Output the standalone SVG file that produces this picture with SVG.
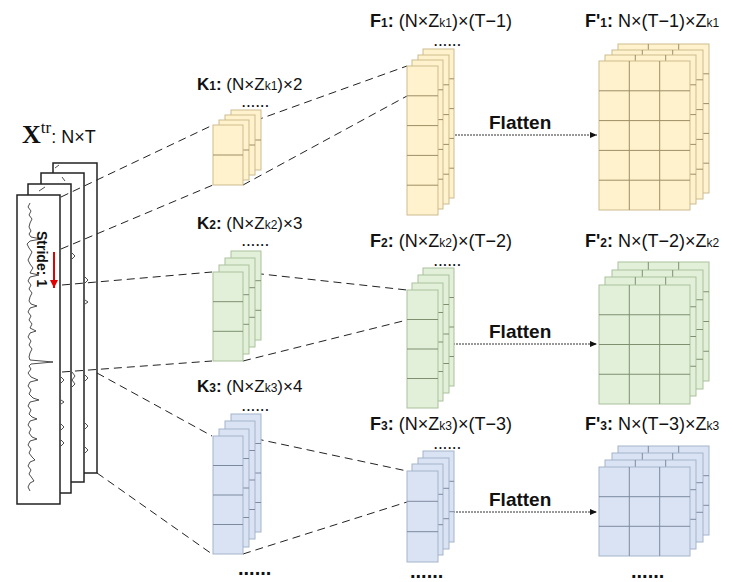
<svg xmlns="http://www.w3.org/2000/svg" width="733" height="582" viewBox="0 0 733 582">
<style>
text{font-family:"Liberation Sans",Arial,sans-serif;fill:#111}
.lbl{font-size:18px}
.lblk{font-size:17px}
.b{font-weight:bold}
.s{font-size:12px}
.dots{font-size:12px;font-weight:bold;letter-spacing:1.3px}
.bdots{font-size:20px;font-weight:bold}
.fl{font-size:19px;font-weight:bold}
.yel rect{fill:#FFF2CC;stroke:#CDBB8E;stroke-width:1}
.yel path{stroke:#9E8E66;stroke-width:1;fill:none}
.grn rect{fill:#E2F0D9;stroke:#A9C29B;stroke-width:1}
.grn path{stroke:#7E9070;stroke-width:1;fill:none}
.blu rect{fill:#DAE3F3;stroke:#A4B4CC;stroke-width:1}
.blu path{stroke:#7C8AA0;stroke-width:1;fill:none}
.xp{fill:#fff;stroke:#222;stroke-width:1.5}
.wave{fill:none;stroke:#222;stroke-width:0.8;stroke-linejoin:round}
.dash{fill:none;stroke:#222;stroke-width:1;stroke-dasharray:8,5}
.dot{fill:none;stroke:#333;stroke-width:1;stroke-dasharray:2,1}
</style>
<defs>
<marker id="ah" markerWidth="8" markerHeight="8" refX="7" refY="4" orient="auto" markerUnits="userSpaceOnUse">
<path d="M0,1 L7,4 L0,7 Z" fill="#111"/>
</marker>
<marker id="ahr" markerWidth="10" markerHeight="10" refX="8" refY="5" orient="auto" markerUnits="userSpaceOnUse">
<path d="M0,1 L8,5 L0,9 Z" fill="#E00000"/>
</marker>
</defs>

<g id="Xtr">
<rect class="xp" x="53" y="163" width="44" height="310"/>
<rect class="xp" x="41" y="173" width="43" height="309"/>
<rect class="xp" x="28" y="184" width="43" height="309"/>
<rect class="xp" x="17" y="195" width="43" height="309"/>
<path class="wave" d="M55,168 l4,-3 M62,177 l3,4 M39,191 l6,-4 M85,277 l3,3 l-3,3 M85,300 l3,2 l-3,2 M72,253 l3,3 l-3,3 M72,372 l3,4 l-3,4 l3,4 l-3,3 M61,377 l3,3 l-3,3 M61,400 l3,2 l-3,2 M61,424 l3,3 l-3,3 M61,440 l3,3 l-3,3 M85,375 l3,3 l-3,3 M85,423 l3,3 l-3,3 M85,447 l3,3 l-3,3"/>
<path class="wave" d="M30,203 L28,207 L31,211 L29,215 L32,219 L30,223 L29,227 L31,231 L29,234 L31,237 L41,239 L30,241 L27,244 L29,248 L32,252 L30,256 L28,260 L30,264 L33,268 L31,271 L30,273 L39,275 L30,277 L28,281 L31,285 L29,289 L32,293 L30,297 L29,301 L31,304 L37,306 L30,308 L28,312 L31,316 L29,320 L32,324 L30,328 L36,331 L30,333 L28,337 L31,341 L29,345 L32,349 L30,353 L29,357 L30,360 L53,362 L31,364 L29,366 L31,369 L28,373 L31,377 L38,380 L30,382 L28,386 L31,390 L29,394 L33,398 L39,400 L30,402 L28,406 L31,410 L29,414 L32,417 L37,419 L30,421 L28,425 L31,429 L29,433 L32,437 L37,439 L30,441 L28,445 L31,449 L29,453 L32,457 L35,460 L30,462 L28,466 L31,470 L29,474 L32,478 L34,481 L30,483 L28,487 L30,491"/>
<text class="b" font-size="14" transform="translate(37,231) rotate(90)">Stride: 1</text>
<line x1="54" y1="252" x2="54" y2="288" stroke="#E00000" stroke-width="2" marker-end="url(#ahr)"/>
<text x="22" y="143"><tspan font-family="Liberation Serif" font-weight="bold" font-size="26">X</tspan><tspan font-family="Liberation Serif" font-size="17" dy="-10">tr</tspan><tspan font-size="18" dy="10">: N×T</tspan></text>
</g>

<g id="connectors">
<path class="dash" d="M61,197 L213,125 M61,249 L213,185 M62,285 L212,272 M62,372 L212,361 M97,373 L212,436 M97,473 L212,554"/>
<path class="dash" d="M243,125 L407,66 M243,185 L407,96 M243,272 L407,290 M243,361 L407,320 M243,436 L407,471 M243,554 L407,502"/>
<path class="dot" d="M455,135 H597" marker-end="url(#ah)"/>
<path class="dot" d="M453,344 H597" marker-end="url(#ah)"/>
<path class="dot" d="M453,512 H597" marker-end="url(#ah)"/>
<text class="fl" x="489" y="129">Flatten</text>
<text class="fl" x="489" y="338">Flatten</text>
<text class="fl" x="489" y="506">Flatten</text>
</g>

<g id="K1" class="yel">
<text class="lblk" x="197" y="90"><tspan class="b">K<tspan class="s">1</tspan>:</tspan> (N×Z<tspan class="s">k1</tspan>)×2</text>
<text class="dots" x="242" y="107">......</text>
<rect x="231" y="110" width="30" height="60"/><path d="M231,140h30"/>
<rect x="225" y="115" width="30" height="60"/><path d="M225,145h30"/>
<rect x="219" y="120" width="30" height="60"/><path d="M219,150h30"/>
<rect x="213" y="125" width="30" height="60"/><path d="M213,155h30"/>
</g>

<g id="K2" class="grn">
<text class="lblk" x="197" y="229"><tspan class="b">K<tspan class="s">2</tspan>:</tspan> (N×Z<tspan class="s">k2</tspan>)×3</text>
<text class="dots" x="242" y="246">......</text>
<rect x="231" y="251" width="30" height="89"/><path d="M231,280.7h30M231,310.3h30"/>
<rect x="225" y="258" width="30" height="89"/><path d="M225,287.7h30M225,317.3h30"/>
<rect x="219" y="265" width="30" height="89"/><path d="M219,294.7h30M219,324.3h30"/>
<rect x="213" y="272" width="30" height="89"/><path d="M213,301.7h30M213,331.3h30"/>
</g>

<g id="K3" class="blu">
<text class="lblk" x="197" y="392"><tspan class="b">K<tspan class="s">3</tspan>:</tspan> (N×Z<tspan class="s">k3</tspan>)×4</text>
<text class="dots" x="242" y="411">......</text>
<rect x="231" y="414" width="30" height="118"/><path d="M231,443.5h30M231,473h30M231,502.5h30"/>
<rect x="225" y="421" width="30" height="118"/><path d="M225,450.5h30M225,480h30M225,509.5h30"/>
<rect x="219" y="429" width="30" height="118"/><path d="M219,458.5h30M219,488h30M219,517.5h30"/>
<rect x="213" y="436" width="30" height="118"/><path d="M213,465.5h30M213,495h30M213,524.5h30"/>
<text class="bdots" x="238" y="575">......</text>
</g>

<g id="F1" class="yel">
<text class="lbl" x="370" y="27"><tspan class="b">F<tspan class="s">1</tspan>:</tspan> (N×Z<tspan class="s">k1</tspan>)×(T−1)</text>
<text class="dots" x="434" y="46">......</text>
<rect x="423" y="49" width="31" height="149"/><path d="M423,78.8h31M423,108.6h31M423,138.4h31M423,168.2h31"/>
<rect x="418" y="55" width="31" height="149"/><path d="M418,84.8h31M418,114.6h31M418,144.4h31M418,174.2h31"/>
<rect x="412" y="60" width="31" height="149"/><path d="M412,89.8h31M412,119.6h31M412,149.4h31M412,179.2h31"/>
<rect x="407" y="66" width="31" height="149"/><path d="M407,95.8h31M407,125.6h31M407,155.4h31M407,185.2h31"/>
</g>

<g id="F2" class="grn">
<text class="lbl" x="370" y="247"><tspan class="b">F<tspan class="s">2</tspan>:</tspan> (N×Z<tspan class="s">k2</tspan>)×(T−2)</text>
<text class="dots" x="434" y="266">......</text>
<rect x="423" y="268" width="31" height="118"/><path d="M423,297.5h31M423,327h31M423,356.5h31"/>
<rect x="418" y="275" width="31" height="118"/><path d="M418,304.5h31M418,334h31M418,363.5h31"/>
<rect x="412" y="283" width="31" height="118"/><path d="M412,312.5h31M412,342h31M412,371.5h31"/>
<rect x="407" y="290" width="31" height="118"/><path d="M407,319.5h31M407,349h31M407,378.5h31"/>
</g>

<g id="F3" class="blu">
<text class="lbl" x="370" y="430"><tspan class="b">F<tspan class="s">3</tspan>:</tspan> (N×Z<tspan class="s">k3</tspan>)×(T−3)</text>
<text class="dots" x="434" y="449">......</text>
<rect x="423" y="451" width="31" height="91"/><path d="M423,481.3h31M423,511.7h31"/>
<rect x="418" y="458" width="31" height="91"/><path d="M418,488.3h31M418,518.7h31"/>
<rect x="412" y="464" width="31" height="91"/><path d="M412,494.3h31M412,524.7h31"/>
<rect x="407" y="471" width="31" height="91"/><path d="M407,501.3h31M407,531.7h31"/>
<text class="bdots" x="410" y="578">......</text>
</g>

<g id="Fp1" class="yel">
<text class="lbl" x="585" y="27"><tspan class="b">F'<tspan class="s">1</tspan>:</tspan> N×(T−1)×Z<tspan class="s">k1</tspan></text>
<rect x="618" y="44" width="91" height="149"/><path d="M618,73.8h91M618,103.6h91M618,133.4h91M618,163.2h91M648.3,44v149M678.7,44v149"/>
<rect x="612" y="50" width="91" height="149"/><path d="M612,79.8h91M612,109.6h91M612,139.4h91M612,169.2h91M642.3,50v149M672.7,50v149"/>
<rect x="605" y="55" width="91" height="149"/><path d="M605,84.8h91M605,114.6h91M605,144.4h91M605,174.2h91M635.3,55v149M665.7,55v149"/>
<rect x="599" y="61" width="91" height="149"/><path d="M599,90.8h91M599,120.6h91M599,150.4h91M599,180.2h91M629.3,61v149M659.7,61v149"/>
</g>

<g id="Fp2" class="grn">
<text class="lbl" x="585" y="247"><tspan class="b">F'<tspan class="s">2</tspan>:</tspan> N×(T−2)×Z<tspan class="s">k2</tspan></text>
<rect x="618" y="262" width="91" height="119"/><path d="M618,291.75h91M618,321.5h91M618,351.25h91M648.3,262v119M678.7,262v119"/>
<rect x="612" y="270" width="91" height="119"/><path d="M612,299.75h91M612,329.5h91M612,359.25h91M642.3,270v119M672.7,270v119"/>
<rect x="605" y="277" width="91" height="119"/><path d="M605,306.75h91M605,336.5h91M605,366.25h91M635.3,277v119M665.7,277v119"/>
<rect x="599" y="285" width="91" height="119"/><path d="M599,314.75h91M599,344.5h91M599,374.25h91M629.3,285v119M659.7,285v119"/>
</g>

<g id="Fp3" class="blu">
<text class="lbl" x="585" y="430"><tspan class="b">F'<tspan class="s">3</tspan>:</tspan> N×(T−3)×Z<tspan class="s">k3</tspan></text>
<rect x="618" y="446" width="91" height="89"/><path d="M618,475.7h91M618,505.3h91M648.3,446v89M678.7,446v89"/>
<rect x="612" y="453" width="91" height="89"/><path d="M612,482.7h91M612,512.3h91M642.3,453v89M672.7,453v89"/>
<rect x="605" y="460" width="91" height="89"/><path d="M605,489.7h91M605,519.3h91M635.3,460v89M665.7,460v89"/>
<rect x="599" y="467" width="91" height="89"/><path d="M599,496.7h91M599,526.3h91M629.3,467v89M659.7,467v89"/>
<text class="bdots" x="631" y="578">......</text>
</g>
</svg>
